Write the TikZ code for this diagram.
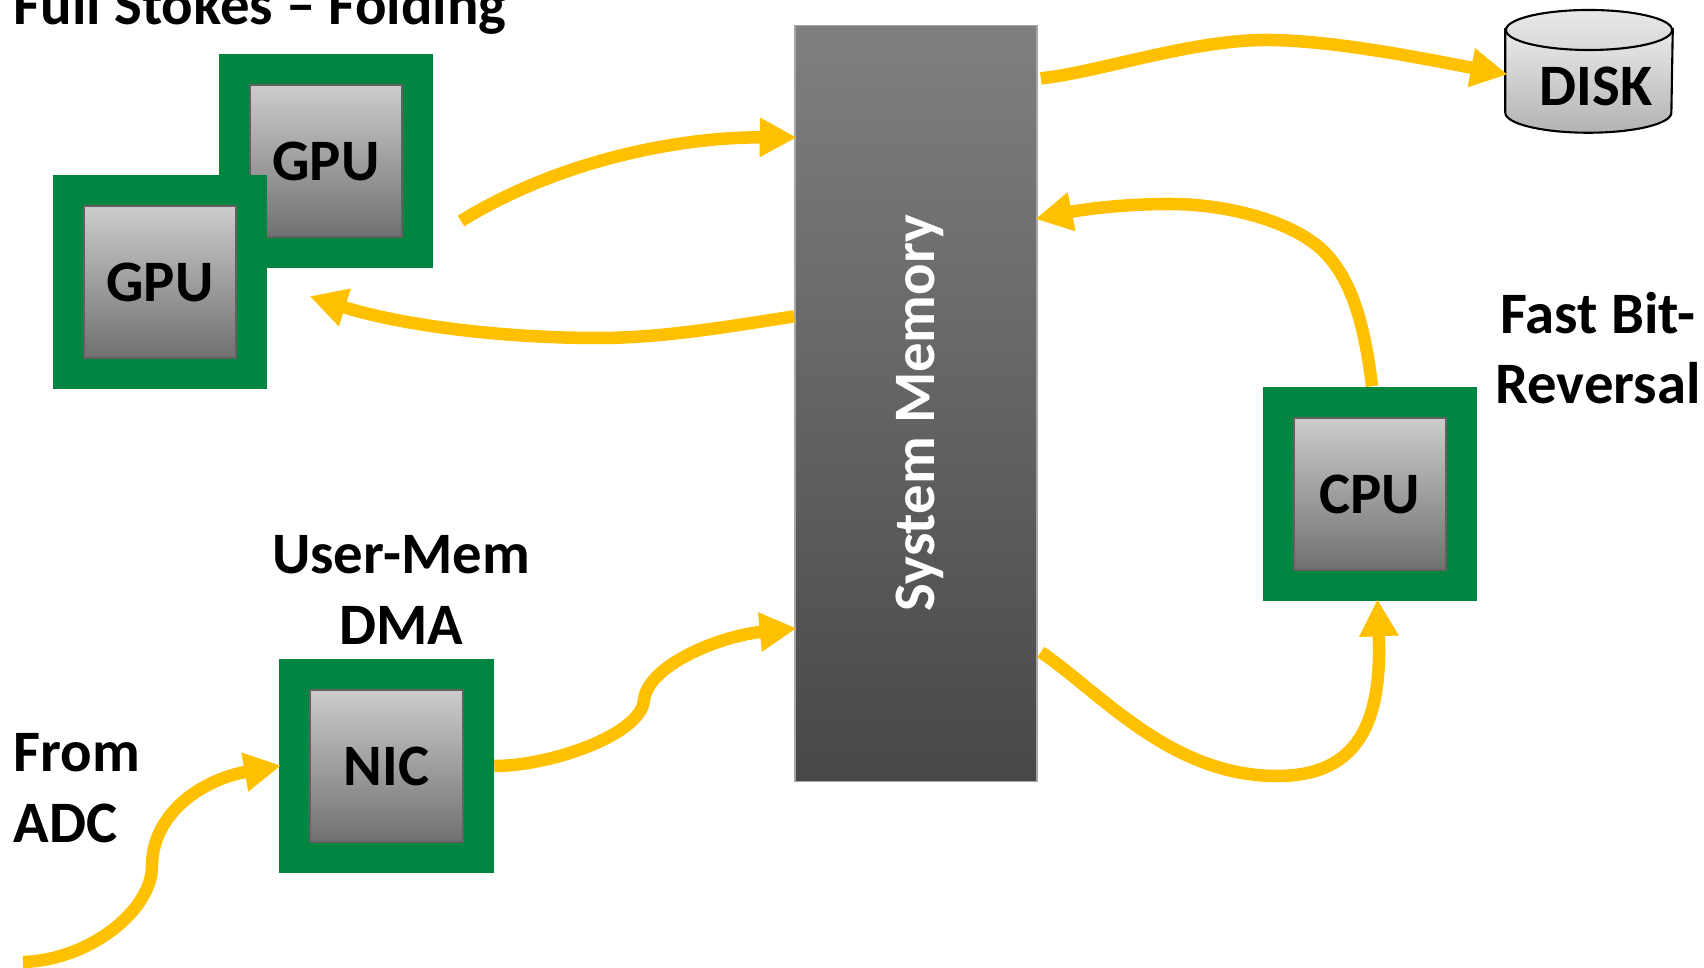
\documentclass[tikz,border=0pt]{standalone}
\usepackage{fontspec}
\setmainfont{Carlito}
\usepackage{xcolor}
\usetikzlibrary{arrows.meta,positioning,shapes.geometric,calc}
\definecolor{chipgreen}{HTML}{028540}
\definecolor{flowyellow}{HTML}{FFC000}

\begin{document}
\begin{tikzpicture}[
    x=0.01cm, y=-0.01cm,
    chip/.style={rectangle, fill=chipgreen, inner sep=0pt, minimum size=2.14cm},
    die/.style={rectangle, draw=black!62, line width=0.55pt, inner sep=0pt, minimum size=1.52cm,
                top color=black!20, bottom color=black!56, font=\bfseries\fontsize{16.7}{20}\selectfont},
    memory/.style={rectangle, draw=black!35, line width=0.4pt, inner sep=0pt,
                   minimum width=2.42cm, minimum height=7.56cm, top color=black!50, bottom color=black!72},
    caption/.style={align=center, inner sep=0pt, font=\bfseries\fontsize{16.7}{20}\selectfont},
    flow/.style={-{Triangle[length=0.37cm, width=0.37cm]}, line width=0.125cm, flowyellow, shorten >=-0.025cm}
]
\useasboundingbox (0,0) rectangle (1704,968);

\node[chip] (gpuBack) at (326,161) {};
\node[die] (gpuBackDie) at (gpuBack) {GPU};
\node[chip] (gpuFront) at (160,282) {};
\node[die] (gpuFrontDie) at (gpuFront) {GPU};
\node[chip] (nic) at (386.5,766) {};
\node[die] (nicDie) at (nic) {NIC};
\node[chip] (cpu) at (1370,494) {};
\node[die] (cpuDie) at (cpu) {CPU};

\node[memory] (mem) at (916,403.5) {};
\node[rotate=90, text=white, inner sep=0pt, font=\bfseries\fontsize{16.7}{20}\selectfont] (memText) at (920,413) {System Memory};

\node[inner sep=0pt, minimum width=1.66cm, minimum height=1.22cm] (disk) at (1589,71) {};
\draw[black, line width=0.6pt, top color=black!8, bottom color=black!30]
    ($(disk.north west)+(0,20)$) -- ($(disk.south west)+(0,-20)$)
    arc[start angle=180, end angle=360, x radius=0.83cm, y radius=0.2cm]
    -- ($(disk.north east)+(0,20)$) -- cycle;
\node[ellipse, draw=black, line width=0.6pt, inner sep=0pt, minimum width=1.66cm, minimum height=0.4cm,
      top color=black!9, bottom color=black!15] (diskTop) at (1589,30) {};
\node[caption] (diskText) at (1596,86) {DISK};

\node[caption, anchor=west] (title) at (13,9) {Full Stokes -- Folding};
\node[caption] (dmaText) at (401,590) {User-Mem\\DMA};
\node[caption, align=left, anchor=west] (adcText) at (13,788) {From\\ADC};
\node[caption] (fastText) at (1598,348) {Fast Bit-\\Reversal};

\coordinate (gpuOut) at (461,221);
\coordinate (gpuIn) at (312,297);
\coordinate (adcIn) at (23,962);

\draw[flow] (gpuOut) .. controls (560,160) and (680,137) .. ($(mem.north west)!0.149!(mem.south west)$);
\draw[flow] ($(mem.north west)!0.385!(mem.south west)$) .. controls (720,328) and (660,338) .. (598,338) .. controls (500,338) and (400,325) .. (gpuIn);
\draw[flow] ($(mem.north east)!0.071!(mem.south east)$) ++(3,0) .. controls (1100,72) and (1190,40) .. (1266,40) .. controls (1335,40) and (1430,60) .. ($(disk.west)+(0,3)$);
\draw[flow] ($(cpu.north)+(2,0)$) .. controls (1364,320) and (1350,275) .. (1320,248) .. controls (1288,220) and (1225,204) .. (1170,204) .. controls (1120,204) and (1080,210) .. ($(mem.north east)!0.256!(mem.south east)$);
\draw[flow] ($(mem.north east)!0.828!(mem.south east)$) ++(3,0) .. controls (1100,692) and (1170,776) .. (1277,776) .. controls (1360,776) and (1382,720) .. (cpu.-86);
\draw[flow] (nic.east) .. controls (550,766) and (641,735) .. (644,700) .. controls (648,665) and (720,636) .. ($(mem.north west)!0.797!(mem.south west)$);
\draw[flow] (adcIn) .. controls (90,960) and (152,910) .. (152,866) .. controls (152,815) and (200,780) .. (nic.west);

\end{tikzpicture}
\end{document}
